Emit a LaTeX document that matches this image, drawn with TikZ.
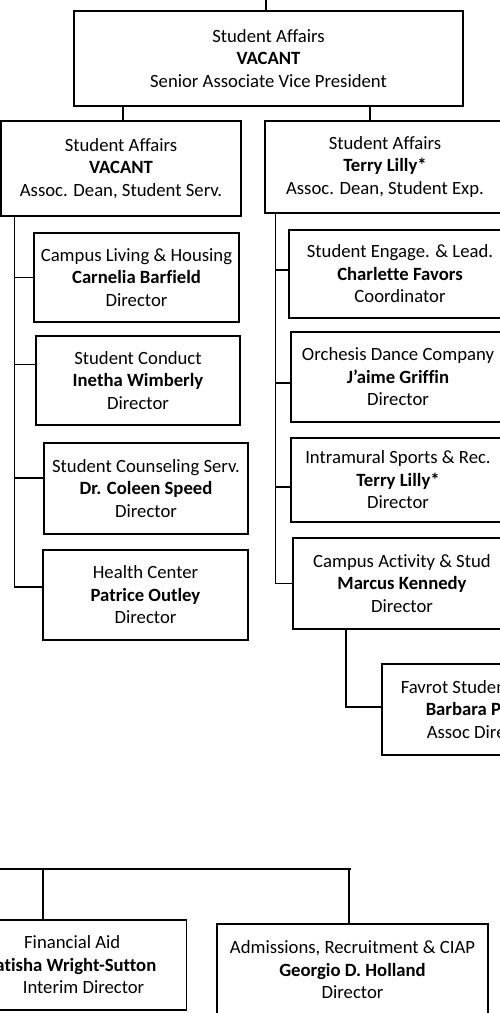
\documentclass[tikz,border=0pt]{standalone}
\usepackage{fontspec}
\setmainfont{Carlito}[Ligatures=NoCommon]
\usetikzlibrary{positioning,calc}

\begin{document}
\begin{tikzpicture}[x=1pt, y=-1pt, line width=1.5pt,
    box/.style={draw, line width=1.5pt, align=center, inner sep=0pt, font=\fontsize{18.7}{22.5}\selectfont}]
    \useasboundingbox (0,0) rectangle (500,1013);
    \clip (0,0) rectangle (500,1013);

    \node[box, minimum width=389pt, minimum height=95pt] (svp) at (268.5,58.5) {Student Affairs\\\textbf{VACANT}\\Senior Associate Vice President};
    \node[box, minimum width=240pt, minimum height=95pt] (ssdean) at (121,168.5) {Student Affairs\\\textbf{VACANT}\\Assoc. Dean, Student Serv.};
    \node[box, minimum width=240pt, minimum height=92pt] (sedean) at (385,167) {Student Affairs\\\textbf{Terry Lilly*}\\Assoc. Dean, Student Exp.};

    \node[box, minimum width=205pt, minimum height=89pt] (housing) at (136.5,277.5) {Campus Living \& Housing\\\textbf{Carnelia Barfield}\\Director};
    \node[box, minimum width=204pt, minimum height=89pt] (conduct) at (138,380.5) {Student Conduct\\\textbf{Inetha Wimberly}\\Director};
    \node[box, minimum width=204pt, minimum height=91pt] (counsel) at (146,488.5) {Student Counseling Serv.\\\textbf{Dr. Coleen Speed}\\Director};
    \node[box, minimum width=205pt, minimum height=90pt] (health) at (145.5,595) {Health Center\\\textbf{Patrice Outley}\\Director};

    \node[box, minimum width=222pt, minimum height=88pt] (engage) at (400,274) {Student Engage. \& Lead.\\\textbf{Charlette Favors}\\Coordinator};
    \node[box, minimum width=214pt, minimum height=90pt] (dance) at (398,377) {Orchesis Dance Company\\\textbf{J’aime Griffin}\\Director};
    \node[box, minimum width=214pt, minimum height=84pt] (intra) at (398,480) {Intramural Sports \& Rec.\\\textbf{Terry Lilly*}\\Director};
    \node[box, minimum width=218pt, minimum height=91pt] (activ) at (402,583.5) {Campus Activity \& Stud\\\textbf{Marcus Kennedy}\\Director};
    \node[box, align=left, inner xsep=19pt, minimum height=91pt, anchor=north west] (favrot) at (381,663) {Favrot Studen\\\kern25pt\textbf{Barbara P}\\\kern26pt Assoc Dire};

    \node[box, align=right, inner xsep=30pt, minimum height=90pt, anchor=north east] (finaid) at (187,919) {Financial Aid\kern36pt\\\textbf{atisha Wright-Sutton}\\Interim Director\kern12pt};
    \node[box, minimum width=271pt, minimum height=92pt] (admit) at (352.5,970) {Admissions, Recruitment \& CIAP\\\textbf{Georgio D. Holland}\\Director};

    \coordinate (feed) at (266,-2);
    \draw (feed) -- (feed |- svp.north);
    \draw ([xshift=2pt]ssdean.north) -- ([xshift=2pt]ssdean.north |- svp.south);
    \draw ([xshift=-15pt]sedean.north) -- ([xshift=-15pt]sedean.north |- svp.south);

    \coordinate (lspine) at ([xshift=14pt]ssdean.south west);
    \draw (lspine) |- ([yshift=8pt]health.west);
    \draw (housing.west) -- (housing.west -| lspine);
    \draw ([yshift=16pt]conduct.west) -- ([yshift=16pt]conduct.west -| lspine);
    \draw ([yshift=10.5pt]counsel.west) -- ([yshift=10.5pt]counsel.west -| lspine);

    \coordinate (rspine) at ([xshift=11pt]sedean.south west);
    \draw (rspine) |- (activ.west);
    \draw ([yshift=4pt]engage.west) -- ([yshift=4pt]engage.west -| rspine);
    \draw ([yshift=-6pt]dance.west) -- ([yshift=-6pt]dance.west -| rspine);
    \draw ([yshift=-7pt]intra.west) -- ([yshift=-7pt]intra.west -| rspine);
    \draw ([xshift=-56pt]activ.south) |- ([yshift=2.5pt]favrot.west);

    \coordinate (busl) at (-5,869);
    \coordinate (busr) at (351,869);
    \draw (busl) -- (busr);
    \draw ([xshift=-144pt]finaid.north east) -- ([xshift=-144pt]finaid.north east |- busl);
    \draw ([xshift=-3.5pt]admit.north) -- ([xshift=-3.5pt]admit.north |- busr);
\end{tikzpicture}
\end{document}
